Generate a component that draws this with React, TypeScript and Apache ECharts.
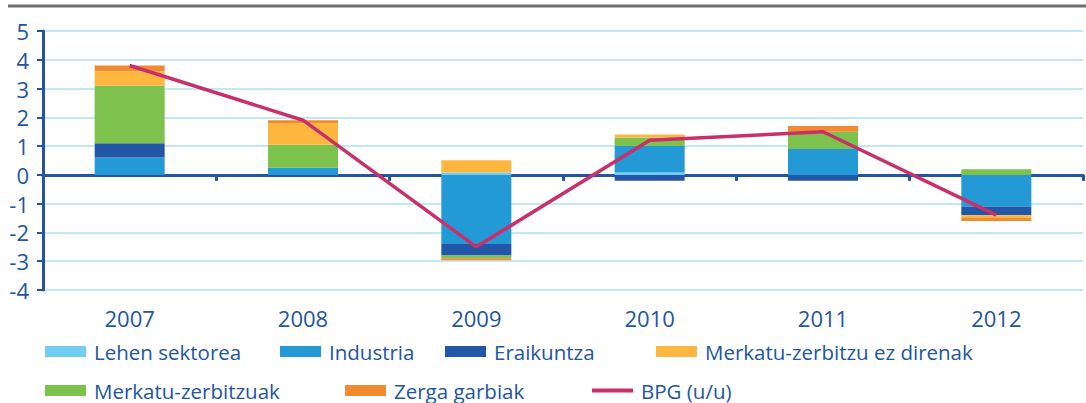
import React, { useEffect, useRef } from "react";
import * as echarts from "echarts";

const years = ["2007", "2008", "2009", "2010", "2011", "2012"];
const lehenSektorea = [0, 0, 0.08, 0.08, 0, 0];
const industria = [0.6, 0.25, -2.4, 0.92, 0.9, -1.1];
const eraikuntza = [0.5, 0, -0.4, -0.2, -0.2, -0.3];
const merkatuZerbitzuak = [2.0, 0.8, -0.1, 0.3, 0.6, 0.2];
const merkatuEzDirenak = [0.5, 0.75, 0.43, 0.1, 0, -0.1];
const zergaGarbiak = [0.2, 0.1, -0.07, 0, 0.2, -0.1];
const bpg = [3.8, 1.9, -2.5, 1.2, 1.5, -1.4];
const yTicks = { min: -4, max: 5, interval: 1 };

const NAMES = {
  lehen: "Lehen sektorea",
  ind: "Industria",
  era: "Eraikuntza",
  ez: "Merkatu-zerbitzu ez direnak",
  mz: "Merkatu-zerbitzuak",
  zg: "Zerga garbiak",
  bpg: "BPG (u/u)",
};

const BLUE_TEXT = "#2255a4";
const FONT = "'Open Sans', sans-serif";

export default function App() {
  const ref = useRef<HTMLDivElement>(null);
  useEffect(() => {
    if (!ref.current) return;
    const chart = echarts.init(ref.current, null, { renderer: "svg" });
    const bar = (name: string, data: number[], color: string) => ({
      name,
      type: "bar",
      stack: "total",
      data,
      barWidth: 70,
      itemStyle: { color },
      xAxisIndex: 0,
    });
    const leg = (name: string, left: number, top: number, extra: any = {}) => ({
      data: [name],
      left,
      top,
      padding: 0,
      itemWidth: 41,
      itemHeight: 11,
      icon: "rect",
      textStyle: { color: BLUE_TEXT, fontSize: 20.5, fontFamily: FONT, padding: [0, 0, 0, 3] },
      ...extra,
    });
    chart.setOption({
      animation: false,
      backgroundColor: "#ffffff",
      textStyle: { fontFamily: FONT },
      grid: { left: 43, right: 3, top: 31, bottom: 113, containLabel: false },
      graphic: [
        {
          type: "line",
          shape: { x1: 8, y1: 6, x2: 1086, y2: 6 },
          style: { stroke: "#6e6e6e", lineWidth: 3 },
        },
      ],
      legend: [
        leg(NAMES.lehen, 45, 341),
        leg(NAMES.ind, 280, 341),
        leg(NAMES.era, 445, 341),
        leg(NAMES.ez, 656, 341),
        leg(NAMES.mz, 45, 380),
        leg(NAMES.zg, 345, 380),
        leg(NAMES.bpg, 592, 380, { itemHeight: 4 }),
      ],
      xAxis: [
        {
          type: "category",
          data: years,
          position: "bottom",
          axisLine: { show: false, onZero: false },
          axisTick: { show: false },
          axisLabel: { color: BLUE_TEXT, fontSize: 22, margin: 17, fontFamily: FONT },
          splitLine: { show: false },
        },
        {
          type: "category",
          data: years,
          position: "bottom",
          axisLine: { show: true, onZero: true, lineStyle: { color: BLUE_TEXT, width: 3 } },
          axisTick: { show: true, length: 6, lineStyle: { color: BLUE_TEXT, width: 3 } },
          axisLabel: { show: false },
          splitLine: { show: false },
        },
      ],
      yAxis: {
        type: "value",
        min: yTicks.min,
        max: yTicks.max,
        interval: yTicks.interval,
        axisLine: { show: true, lineStyle: { color: BLUE_TEXT, width: 3 } },
        axisTick: { show: true, length: 6, lineStyle: { color: BLUE_TEXT, width: 2 } },
        axisLabel: { color: BLUE_TEXT, fontSize: 22, margin: 14, fontFamily: FONT },
        splitLine: { show: true, lineStyle: { color: "#aee0f5", width: 1.5 } },
      },
      series: [
        bar(NAMES.lehen, lehenSektorea, "#72cdf2"),
        bar(NAMES.ind, industria, "#2399d5"),
        bar(NAMES.era, eraikuntza, "#2256a6"),
        bar(NAMES.mz, merkatuZerbitzuak, "#7dc24d"),
        bar(NAMES.ez, merkatuEzDirenak, "#fdb73e"),
        bar(NAMES.zg, zergaGarbiak, "#f18a31"),
        {
          name: NAMES.bpg,
          type: "line",
          data: bpg,
          xAxisIndex: 0,
          symbol: "none",
          lineStyle: { color: "#c92f6a", width: 3.5 },
          itemStyle: { color: "#c92f6a" },
          z: 5,
        },
      ],
    });
    return () => chart.dispose();
  }, []);
  return (
    <div
      ref={ref}
      style={{ position: "fixed", left: 0, top: 0, width: 1086, height: 403 }}
    />
  );
}
